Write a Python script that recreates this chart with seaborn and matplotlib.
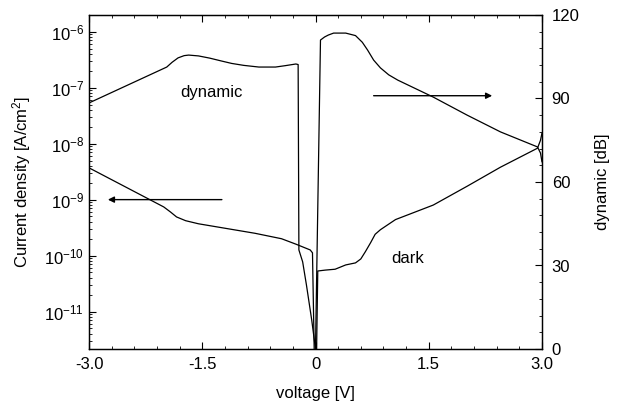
import matplotlib
matplotlib.use("Agg")
import matplotlib.pyplot as plt
from matplotlib.ticker import FixedLocator, MultipleLocator, LogLocator, NullFormatter
import numpy as np
import pandas as pd
import seaborn as sns

# Dark current density vs. voltage (left axis, A/cm^2)
dark_v = [-3.0, -2.01, -1.92, -1.84, -1.72, -1.55, -0.80, -0.45, -0.26, -0.07,
          -0.04, 0.0, 0.03, 0.13, 0.26, 0.40, 0.53, 0.60, 0.66, 0.73, 0.79,
          0.86, 0.95, 1.06, 1.56, 2.01, 2.45, 2.94, 2.98, 3.0]
dark_j = [3.7e-9, 7.4e-10, 6.0e-10, 4.9e-10, 4.2e-10, 3.7e-10, 2.5e-10,
          2.0e-10, 1.6e-10, 1.26e-10, 1.12e-10, 1e-13, 5.3e-11, 5.5e-11,
          5.7e-11, 6.8e-11, 7.4e-11, 8.7e-11, 1.17e-10, 1.7e-10, 2.4e-10,
          2.9e-10, 3.5e-10, 4.4e-10, 8.0e-10, 1.74e-9, 3.8e-9, 8.3e-9,
          1.15e-8, 1.55e-8]

# Dynamic range vs. voltage (right axis, dB)
dyn_v = [-3.0, -1.97, -1.90, -1.82, -1.74, -1.68, -1.55, -1.40, -1.25, -1.11,
         -0.95, -0.75, -0.53, -0.40, -0.26, -0.23, -0.22, -0.17, -0.12, -0.08,
         -0.05, 0.0, 0.066, 0.12, 0.17, 0.24, 0.40, 0.53, 0.62, 0.69, 0.77,
         0.86, 0.97, 1.09, 1.56, 2.01, 2.45, 2.94, 2.98, 3.0]
dyn_db = [88.4, 101.3, 103.0, 104.6, 105.4, 105.6, 105.3, 104.5, 103.5, 102.6,
          101.9, 101.3, 101.3, 101.8, 102.4, 102.2, 35.6, 31.3, 23.0, 15.8,
          10.4, 0.0, 111.0, 112.1, 112.8, 113.5, 113.5, 112.6, 110.2, 107.4,
          103.8, 101.0, 98.5, 96.6, 90.5, 84.0, 78.0, 72.6, 70.4, 67.2]

xticks = [-3.0, -1.5, 0.0, 1.5, 3.0]
xticklabels = ["-3.0", "-1.5", "0", "1.5", "3.0"]
current_ticks = [1e-11, 1e-10, 1e-9, 1e-8, 1e-7, 1e-6]
db_ticks = [0, 30, 60, 90, 120]

dark_df = pd.DataFrame({"voltage": dark_v, "current": dark_j})
dyn_df = pd.DataFrame({"voltage": dyn_v, "dynamic": dyn_db})

sns.set_style("ticks")
plt.rcParams["font.family"] = ["Liberation Sans", "DejaVu Sans"]
plt.rcParams["mathtext.fontset"] = "custom"
plt.rcParams["mathtext.rm"] = "Liberation Sans"
plt.rcParams["mathtext.it"] = "Liberation Sans:italic"
plt.rcParams["text.color"] = "black"
plt.rcParams["axes.labelcolor"] = "black"
plt.rcParams["xtick.color"] = "black"
plt.rcParams["ytick.color"] = "black"

fig = plt.figure(figsize=(6.31, 4.15), dpi=100)
ax = fig.add_axes([89 / 631, 1 - 349 / 415, (542 - 89) / 631, (349 - 15) / 415])
ax2 = ax.twinx()

sns.lineplot(data=dark_df, x="voltage", y="current", ax=ax, sort=False,
             estimator=None, color="black", linewidth=0.9)
sns.lineplot(data=dyn_df, x="voltage", y="dynamic", ax=ax2, sort=False,
             estimator=None, color="black", linewidth=0.9)
ax2.set_xlabel("")

ax.set_yscale("log")
ax.set_ylim(10 ** -11.67, 10 ** -5.70)
ax.set_xlim(-3.0, 3.0)
ax2.set_ylim(0, 120)

ax.xaxis.set_major_locator(FixedLocator(xticks))
ax.set_xticklabels(xticklabels)
ax.xaxis.set_minor_locator(MultipleLocator(0.3))
ax.yaxis.set_major_locator(FixedLocator(current_ticks))
ax.yaxis.set_minor_locator(LogLocator(base=10, subs=np.arange(2, 10), numticks=20))
ax.yaxis.set_minor_formatter(NullFormatter())
ax2.yaxis.set_major_locator(FixedLocator(db_ticks))
ax2.yaxis.set_minor_locator(MultipleLocator(6))

ax.tick_params(axis="both", which="both", direction="in", labelsize=12,
               top=True, color="black", labelcolor="black")
ax.tick_params(axis="y", which="both", right=False)
ax.tick_params(which="major", length=5, width=0.8)
ax.tick_params(which="minor", length=2.5, width=0.6)
ax.tick_params(axis="x", pad=6)
ax2.tick_params(axis="y", which="both", direction="in", labelsize=12,
                color="black", labelcolor="black", pad=7)
ax2.tick_params(which="major", length=5, width=0.8)
ax2.tick_params(which="minor", length=2.5, width=0.6)

for a in (ax, ax2):
    for s in a.spines.values():
        s.set_linewidth(0.9)
        s.set_color("black")

ax.set_xlabel("voltage [V]", fontsize=12, labelpad=10)
ax.set_ylabel("Current density [A/cm$^2$]", fontsize=12, labelpad=8)
ax2.set_ylabel("dynamic [dB]", fontsize=12, labelpad=11)

# Curve labels
ax2.text(-1.38, 92, "dynamic", fontsize=12, ha="center", va="center")
ax2.text(1.22, 32.5, "dark", fontsize=12, ha="center", va="center")

# Arrows pointing to each curve's axis
ax.annotate("", xy=(-2.75, 1.0e-9), xytext=(-1.24, 1.0e-9),
            arrowprops=dict(arrowstyle="-|>", color="black", lw=1.0,
                            mutation_scale=9, shrinkA=0, shrinkB=0))
ax2.annotate("", xy=(2.34, 91), xytext=(0.77, 91),
             arrowprops=dict(arrowstyle="-|>", color="black", lw=1.0,
                             mutation_scale=9, shrinkA=0, shrinkB=0))

fig.savefig("out.png", dpi=100)
